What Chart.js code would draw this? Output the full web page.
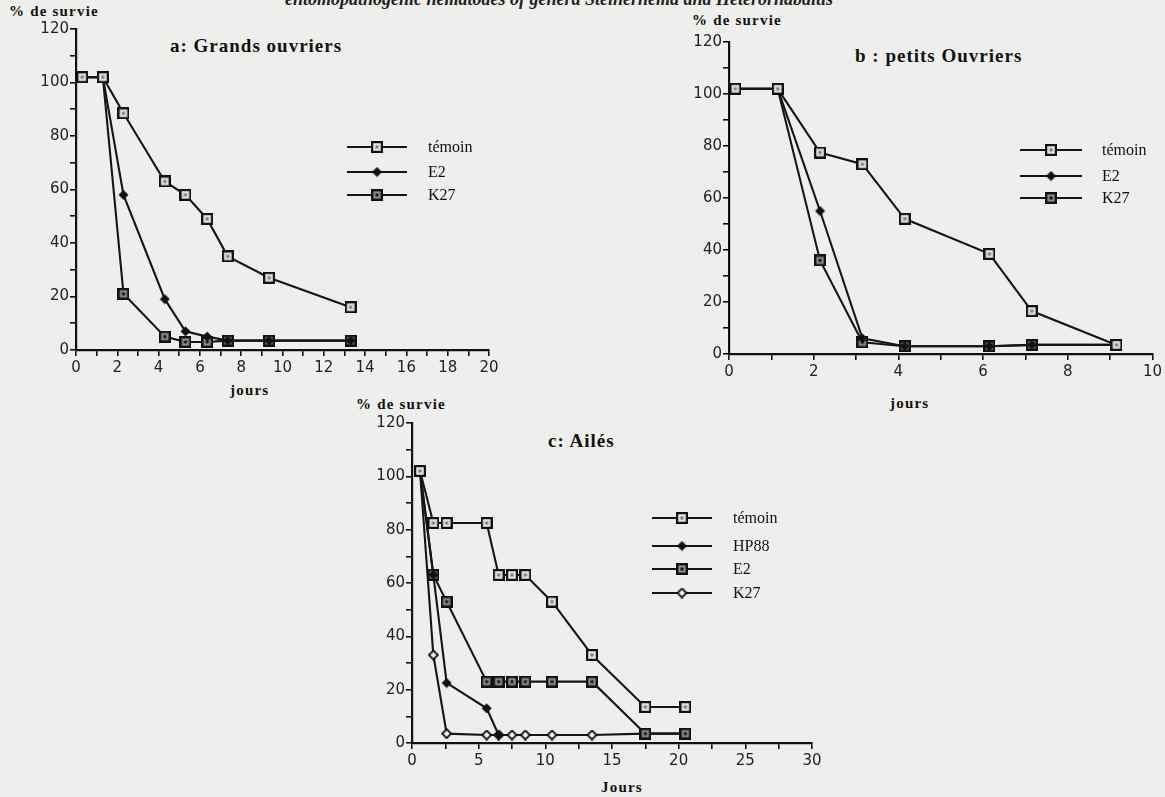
<!DOCTYPE html>
<html>
<head>
<meta charset="utf-8">
<script src="https://cdn.jsdelivr.net/npm/chart.js@4.4.1/dist/chart.umd.min.js"></script>
<style>
  html, body { margin:0; padding:0; background:#eeeeec; }
  body { width:1165px; height:797px; position:relative; overflow:hidden; }
  canvas { position:absolute; }
  .t { position:absolute; font-family:"Liberation Serif", "DejaVu Serif", serif; color:#111; white-space:nowrap; line-height:1; }
  .h { font-weight:bold; font-size:19px; letter-spacing:1px; }
  .ax { font-weight:bold; font-size:15px; letter-spacing:1.2px; }
  .cap { font-style:italic; font-weight:bold; font-size:18px; color:#222; }
</style>
</head>
<body>
<div class="t cap" style="left:285px; top:-10px;">entomopathogenic nematodes of genera Steinernema and Heterorhabditis</div>

<div class="t ax" style="left:9px; top:4px;">% de survie</div>
<div class="t h" style="left:170px; top:36px;">a: Grands ouvriers</div>
<div class="t ax" style="left:230px; top:383px;">jours</div>

<div class="t ax" style="left:692px; top:13px;">% de survie</div>
<div class="t h" style="left:855px; top:46px;">b : petits Ouvriers</div>
<div class="t ax" style="left:890px; top:396px;">jours</div>

<div class="t ax" style="left:356px; top:397px;">% de survie</div>
<div class="t h" style="left:548px; top:431px;">c: Ailés</div>
<div class="t ax" style="left:601px; top:780px;">Jours</div>

<canvas id="ca" width="520" height="400" style="left:0px; top:0px;"></canvas>
<canvas id="cb" width="505" height="400" style="left:660px; top:0px;"></canvas>
<canvas id="cc" width="520" height="417" style="left:330px; top:380px;"></canvas>

<script>
// ---------- DATA ----------
// a: Grands ouvriers
const aDays   = [0.3, 1.3, 2.3, 4.3, 5.3, 6.35, 7.35, 9.35, 13.3];
const aTemoin = [102, 102, 88.5, 63, 58, 49, 35, 27, 16];
const aE2     = [102, 102, 58, 19, 7, 5, 3.5, 3.5, 3.5];
const aK27    = [102, 102, 21, 5, 3, 3, 3.5, 3.5, 3.5];

// b: petits Ouvriers
const bDays   = [0.15, 1.15, 2.15, 3.15, 4.15, 6.15, 7.15, 9.15];
const bTemoin = [102, 102, 77.5, 73, 52, 38.5, 16.5, 3.5];
const bE2     = [102, 102, 55, 6, 3, 3, 3.5, 3.5];
const bK27    = [102, 102, 36, 4.5, 3, 3, 3.5, 3.5];

// c: Ailés
const cDays   = [0.6, 1.6, 2.6, 5.6, 6.5, 7.5, 8.5, 10.5, 13.5, 17.5, 20.5];
const cTemoin = [102, 82.5, 82.5, 82.5, 63, 63, 63, 53, 33, 13.5, 13.5];
const cHP88   = [102, 63, 22.5, 13, 3, null, null, null, null, null, null];
const cE2     = [102, 63, 53, 23, 23, 23, 23, 23, 23, 3.5, 3.5];
const cK27    = [102, 33, 3.5, 3, 3, 3, 3, 3, 3, 3.5, 3.5];

const yTicks = [0, 20, 40, 60, 80, 100, 120];
const aXLabels = [0, 2, 4, 6, 8, 10, 12, 14, 16, 18, 20];
const bXLabels = [0, 2, 4, 6, 8, 10];
const cXLabels = [0, 5, 10, 15, 20, 25, 30];

// ---------- MARKERS ----------
function mk(w, draw) {
  const c = document.createElement('canvas');
  c.width = w; c.height = w;
  draw(c.getContext('2d'), w);
  return c;
}
const sqOpen = mk(12, (g) => {
  g.fillStyle = '#e2e2e0'; g.fillRect(0, 0, 12, 12);
  g.strokeStyle = '#111'; g.lineWidth = 2.2; g.strokeRect(1.1, 1.1, 9.8, 9.8);
  g.fillStyle = '#7a7a78'; g.fillRect(4.5, 4.5, 3, 3);
});
const sqDark = mk(12, (g) => {
  g.fillStyle = '#8e8e8c'; g.fillRect(0, 0, 12, 12);
  g.strokeStyle = '#111'; g.lineWidth = 2.4; g.strokeRect(1.2, 1.2, 9.6, 9.6);
  g.fillStyle = '#111'; g.fillRect(4.5, 4.5, 3, 3);
});
const diaFull = mk(11, (g) => {
  g.fillStyle = '#111'; g.beginPath();
  g.moveTo(5.5, 0.5); g.lineTo(10.5, 5.5); g.lineTo(5.5, 10.5); g.lineTo(0.5, 5.5); g.closePath(); g.fill();
});
const diaOpen = mk(11, (g) => {
  g.fillStyle = '#f4f4f2'; g.strokeStyle = '#111'; g.lineWidth = 1.8; g.beginPath();
  g.moveTo(5.5, 1); g.lineTo(10, 5.5); g.lineTo(5.5, 10); g.lineTo(1, 5.5); g.closePath(); g.fill(); g.stroke();
});

// ---------- HELPERS ----------
function pts(days, vals) {
  const out = [];
  days.forEach((d, i) => { if (vals[i] !== null) out.push({ x: d, y: vals[i] }); });
  return out;
}
function ds(label, days, vals, marker) {
  return {
    label: label, data: pts(days, vals), showLine: true,
    borderColor: '#151515', borderWidth: 2.1, pointStyle: marker,
    pointRadius: 5, pointHoverRadius: 5, fill: false, tension: 0
  };
}

const legendPlugin = {
  id: 'sideLegend',
  afterDatasetsDraw(chart, args, opts) {
    const g = chart.ctx;
    g.save();
    chart.data.datasets.forEach((d, i) => {
      const y = opts.ys[i];
      g.strokeStyle = '#151515'; g.lineWidth = 2.1;
      g.beginPath(); g.moveTo(opts.x1, y); g.lineTo(opts.x2, y); g.stroke();
      const m = d.pointStyle;
      const mx = (opts.x1 + opts.x2) / 2;
      g.drawImage(m, mx - m.width / 2, y - m.height / 2);
      g.fillStyle = '#111';
      g.font = '16px "Liberation Serif", serif';
      g.textBaseline = 'middle';
      g.fillText(d.label, opts.tx, y + 1);
    });
    g.restore();
  }
};

function make(id, area, W, H, xMax, xStep, xLabels, datasets, legend) {
  const WY = 50, HX = 30;
  const tickFont = { family: '"DejaVu Sans", Lato, sans-serif', size: 15 };
  return new Chart(document.getElementById(id), {
    type: 'scatter',
    data: { datasets: datasets },
    plugins: [legendPlugin],
    options: {
      responsive: false, animation: false,
      layout: { padding: { left: area.l - WY, top: area.t, right: W - area.r, bottom: H - area.b - HX } },
      plugins: { legend: { display: false }, tooltip: { enabled: false }, sideLegend: legend },
      scales: {
        x: {
          type: 'linear', min: 0, max: xMax,
          afterFit: (s) => { s.height = HX; },
          afterBuildTicks: (s) => { const t = []; for (let v = 0; v <= xMax + 1e-9; v += xStep) t.push({ value: v }); s.ticks = t; },
          ticks: { autoSkip: false, maxRotation: 0, padding: 3, color: '#222', font: tickFont,
                   callback: (v) => xLabels.includes(v) ? String(v) : '' },
          grid: { display: true, drawOnChartArea: false, drawTicks: true, tickLength: 6, color: '#111', lineWidth: 1.6 },
          border: { display: true, color: '#111', width: 2.2 }
        },
        y: {
          type: 'linear', min: 0, max: 120,
          afterFit: (s) => { s.width = WY; },
          afterBuildTicks: (s) => { const t = []; for (let v = 0; v <= 120; v += 10) t.push({ value: v }); s.ticks = t; },
          ticks: { autoSkip: false, padding: 1, color: '#222', font: tickFont,
                   callback: (v) => yTicks.includes(v) ? String(v) : '' },
          grid: { display: true, drawOnChartArea: false, drawTicks: true, tickLength: 6, color: '#111', lineWidth: 1.6 },
          border: { display: true, color: '#111', width: 2.2 }
        }
      }
    }
  });
}

// ---------- CHARTS ----------
make('ca', { l: 76, t: 29, r: 489, b: 350 }, 520, 400, 20, 1, aXLabels, [
  ds('témoin', aDays, aTemoin, sqOpen),
  ds('E2', aDays, aE2, diaFull),
  ds('K27', aDays, aK27, sqDark)
], { x1: 347, x2: 407, tx: 428, ys: [147, 172, 195] });

make('cb', { l: 69, t: 42, r: 493, b: 354 }, 505, 400, 10, 1, bXLabels, [
  ds('témoin', bDays, bTemoin, sqOpen),
  ds('E2', bDays, bE2, diaFull),
  ds('K27', bDays, bK27, sqDark)
], { x1: 360, x2: 422, tx: 442, ys: [150, 176, 198] });

make('cc', { l: 82, t: 43, r: 482, b: 363 }, 520, 417, 30, 2.5, cXLabels, [
  ds('témoin', cDays, cTemoin, sqOpen),
  ds('HP88', cDays, cHP88, diaFull),
  ds('E2', cDays, cE2, sqDark),
  ds('K27', cDays, cK27, diaOpen)
], { x1: 322, x2: 382, tx: 403, ys: [138, 166, 189, 213] });
</script>
</body>
</html>
